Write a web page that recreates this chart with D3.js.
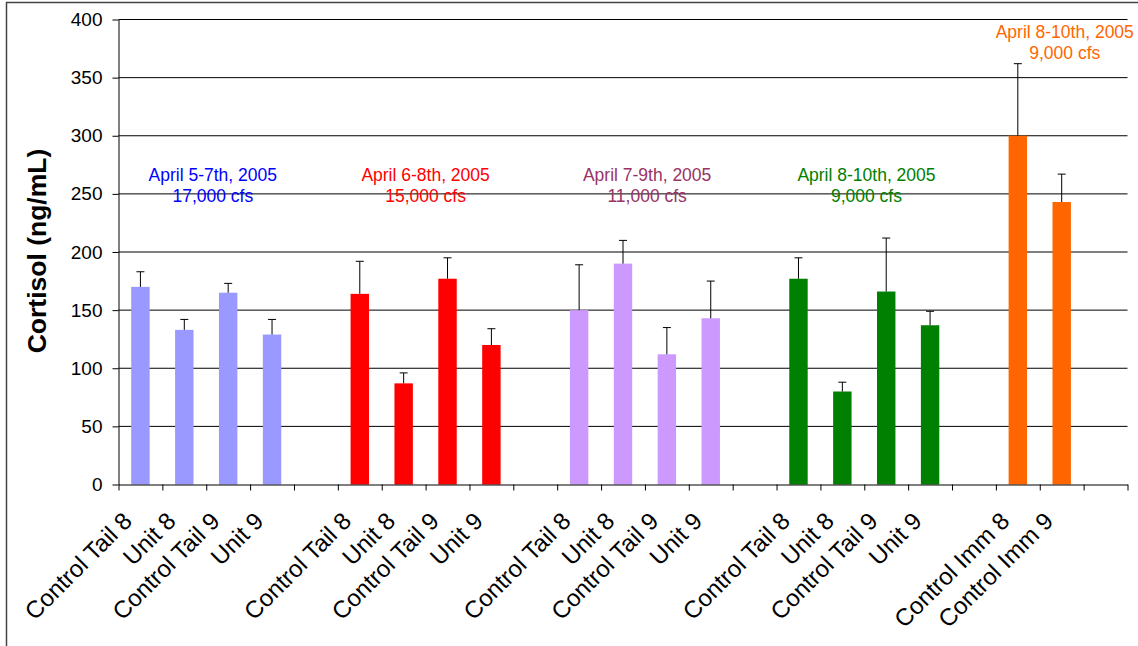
<!DOCTYPE html>
<html>
<head>
<meta charset="utf-8">
<script src="https://cdn.jsdelivr.net/npm/d3@7"></script>
<style>
    body { margin: 0; background: #fff; }
    svg { display: block; font-family: Arial, "Liberation Sans", sans-serif; }
</style>
</head>
<body>
<div id="chart"></div>
<script>
// Cortisol par groupe de prélèvement

const dates = ["April 5-7th, 2005", "April 6-8th, 2005", "April 7-9th, 2005", "April 8-10th, 2005", "April 8-10th, 2005"];
const flows = ["17,000 cfs", "15,000 cfs", "11,000 cfs", "9,000 cfs", "9,000 cfs"];
const barColors = ["#9999FF", "#FF0000", "#CC99FF", "#008000", "#FF6600"];
const textColors = ["#0000FF", "#FF0000", "#993366", "#008000", "#FF6600"];

const groupLabels = [
    ["Control Tail 8", "Unit 8", "Control Tail 9", "Unit 9"],
    ["Control Tail 8", "Unit 8", "Control Tail 9", "Unit 9"],
    ["Control Tail 8", "Unit 8", "Control Tail 9", "Unit 9"],
    ["Control Tail 8", "Unit 8", "Control Tail 9", "Unit 9"],
    ["Control Imm 8", "Control Imm 9"]
];
const cortisol = [
    [170, 133, 165, 129],
    [164, 87, 177, 120],
    [150, 190, 112, 143],
    [177, 80, 166, 137],
    [300, 243]
];
const errPlus = [
    [13, 9, 8, 13],
    [28, 9, 18, 14],
    [39, 20, 23, 32],
    [18, 8, 46, 12],
    [62, 24]
];
const yTicks = [0, 50, 100, 150, 200, 250, 300, 350, 400];

// Emplacement des annotations (en unités de catégorie, et en valeur y)
const annoSlot = [2.15, 7.0, 12.05, 17.05, 21.57];
const annoValue = [261, 261, 261, 261, 384];

function createChart() {
    const W = 1138, H = 646;
    const left = 118.5, right = 1127.5, top = 19.5, bottom = 484.5;

    // Construire les emplacements : chaque groupe suivi d'une case vide
    const slots = [];
    groupLabels.forEach((labs, g) => {
        labs.forEach((lab, i) => {
            slots.push({ label: lab, value: cortisol[g][i], err: errPlus[g][i], group: g });
        });
        slots.push({ label: "", value: null, err: null, group: g });
    });

    const svg = d3.select("#chart")
        .append("svg")
        .attr("width", W)
        .attr("height", H);

    svg.append("rect")
        .attr("width", W).attr("height", H)
        .attr("fill", "#fff");

    // Cadre
    svg.append("rect")
        .attr("x", 6.5).attr("y", 2.5)
        .attr("width", 1200).attr("height", 700)
        .attr("fill", "none")
        .attr("stroke", "#444")
        .attr("stroke-width", 1.5);

    // Échelles
    const x = d3.scaleBand()
        .domain(d3.range(slots.length))
        .range([left, right])
        .paddingInner(0.58)
        .paddingOuter(0.29);

    const slotPos = d3.scaleLinear()
        .domain([0, slots.length])
        .range([left, right]);

    const y = d3.scaleLinear()
        .domain([0, 400])
        .range([bottom, top]);

    // Grille
    svg.append("g")
        .selectAll("line")
        .data(yTicks.filter(d => d > 0))
        .enter()
        .append("line")
        .attr("x1", left).attr("x2", right)
        .attr("y1", d => y(d)).attr("y2", d => y(d))
        .attr("stroke", "#000")
        .attr("stroke-width", 1);

    // Axe Y
    const yAxis = svg.append("g")
        .attr("transform", `translate(${left},0)`)
        .call(d3.axisLeft(y).tickValues(yTicks).tickSize(6).tickSizeOuter(0).tickPadding(10));
    yAxis.selectAll("path, line").attr("stroke", "#000");
    yAxis.selectAll("text")
        .style("font-size", "19px")
        .style("font-family", "Arial, 'Liberation Sans', sans-serif")
        .attr("fill", "#000");

    // Barres
    svg.selectAll(".bar")
        .data(slots.map((d, i) => ({ ...d, i })).filter(d => d.value !== null))
        .enter()
        .append("rect")
        .attr("class", "bar")
        .attr("x", d => x(d.i))
        .attr("y", d => y(d.value))
        .attr("width", x.bandwidth())
        .attr("height", d => y(0) - y(d.value))
        .attr("fill", d => barColors[d.group]);

    // Barres d'erreur (vers le haut seulement)
    const errG = svg.append("g");
    slots.forEach((d, i) => {
        if (d.value === null) return;
        const cx = x(i) + x.bandwidth() / 2;
        errG.append("line")
            .attr("x1", cx).attr("x2", cx)
            .attr("y1", y(d.value)).attr("y2", y(d.value + d.err))
            .attr("stroke", "#000").attr("stroke-width", 1);
        errG.append("line")
            .attr("x1", cx - 4).attr("x2", cx + 4)
            .attr("y1", y(d.value + d.err)).attr("y2", y(d.value + d.err))
            .attr("stroke", "#000").attr("stroke-width", 1);
    });

    // Axe X
    const xAxis = svg.append("g")
        .attr("transform", `translate(0,${bottom})`)
        .call(d3.axisBottom(slotPos)
            .tickValues(d3.range(slots.length + 1))
            .tickSize(6)
            .tickSizeOuter(0)
            .tickFormat(""));
    xAxis.selectAll("path, line").attr("stroke", "#000");

    // Labels des catégories
    svg.append("g")
        .selectAll("text")
        .data(slots.map((d, i) => ({ ...d, i })).filter(d => d.label !== ""))
        .enter()
        .append("text")
        .attr("transform", d => `translate(${x(d.i) + x.bandwidth() / 2 - 7},${bottom + 38}) rotate(-45)`)
        .attr("text-anchor", "end")
        .style("font-size", "24px")
        .attr("fill", "#000")
        .text(d => d.label);

    // Titre de l'axe Y
    svg.append("text")
        .attr("transform", `translate(46,251) rotate(-90)`)
        .attr("text-anchor", "middle")
        .style("font-size", "26.5px")
        .style("font-weight", "bold")
        .attr("fill", "#000")
        .text("Cortisol (ng/mL)");

    // Annotations des groupes
    dates.forEach((dt, g) => {
        const t = svg.append("text")
            .attr("x", slotPos(annoSlot[g]))
            .attr("y", y(annoValue[g]))
            .attr("text-anchor", "middle")
            .style("font-size", "17.5px")
            .attr("fill", textColors[g]);
        t.append("tspan")
            .attr("x", slotPos(annoSlot[g]))
            .text(dt);
        t.append("tspan")
            .attr("x", slotPos(annoSlot[g]))
            .attr("dy", 21)
            .text(flows[g]);
    });
}

createChart();
</script>
</body>
</html>
